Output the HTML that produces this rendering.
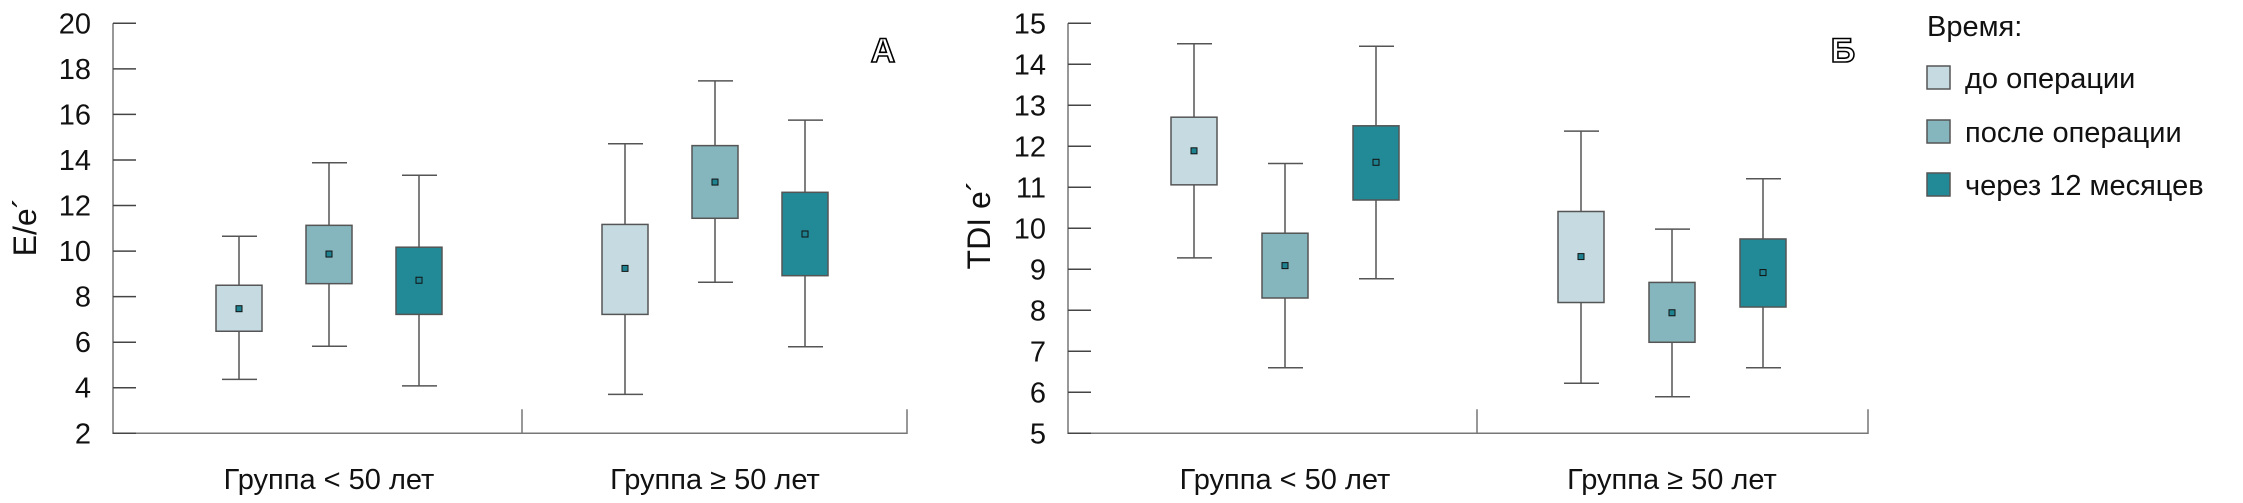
<!DOCTYPE html>
<html><head><meta charset="utf-8"><style>
html,body{margin:0;padding:0;background:#fff;}
svg{display:block;font-family:"Liberation Sans",sans-serif;}
</style></head><body>
<svg id="chart" width="2243" height="503" viewBox="0 0 2243 503" xmlns="http://www.w3.org/2000/svg"></svg>
<script>
const categories = ["Группа < 50 лет", "Группа ≥ 50 лет"];
const seriesNames = ["до операции", "после операции", "через 12 месяцев"];
// panel A (E/e')  [min, q1, q3, max, mean] per group per series
const eeMin  = [[4.37, 5.82, 4.08], [3.71, 8.63, 5.80]];
const eeQ1   = [[6.48, 8.57, 7.22], [7.22, 11.44, 8.92]];
const eeQ3   = [[8.50, 11.13, 10.17], [11.17, 14.63, 12.58]];
const eeMax  = [[10.65, 13.88, 13.33], [14.71, 17.47, 15.75]];
const eeMean = [[7.47, 9.87, 8.72], [9.24, 13.03, 10.75]];
const eeTicks = [2, 4, 6, 8, 10, 12, 14, 16, 18, 20];
// panel Б (TDI e')
const tdMin  = [[9.28, 6.60, 8.77], [6.22, 5.89, 6.60]];
const tdQ1   = [[11.06, 8.30, 10.69], [8.19, 7.22, 8.08]];
const tdQ3   = [[12.71, 9.88, 12.50], [10.41, 8.68, 9.74]];
const tdMax  = [[14.50, 11.58, 14.44], [12.37, 9.98, 11.21]];
const tdMean = [[11.89, 9.09, 11.61], [9.31, 7.94, 8.92]];
const tdTicks = [5, 6, 7, 8, 9, 10, 11, 12, 13, 14, 15];

const colors = ["#c6dbe1", "#85b5bd", "#218a96"];
const NS = "http://www.w3.org/2000/svg";
const svg = document.getElementById("chart");
function mk(tag, attrs, parent) {
  const e = document.createElementNS(NS, tag);
  for (const k in attrs) e.setAttribute(k, attrs[k]);
  (parent || svg).appendChild(e);
  return e;
}

function panel(p) {
  const g = mk("g", {});
  
  
  const tmin = p.ticks[0], tmax = p.ticks[p.ticks.length - 1];
  const y = v => p.yBot - (v - tmin) / (tmax - tmin) * (p.yBot - p.yTop);
  const gx = (gi, si) => p.groupLeft[gi] + si * p.spacing;
  // axes
  const ax = mk("path", {d: `M${p.x0},${p.yTop} V${p.yBot} H${p.x1} V${p.yBot - 24} M${p.xDiv},${p.yBot} V${p.yBot - 24}`, fill: "none", stroke: "#777", "stroke-width": 1.5}, g);
  
  
  p.ticks.forEach(t => {
    const tk = mk("line", {x1: p.x0, x2: p.x0 + 23, y1: y(t), y2: y(t), stroke: "#444", "stroke-width": 1.5}, g);
    
    
    const tl = mk("text", {x: p.x0 - 22, y: y(t) + 10, "text-anchor": "end", "font-size": 29, fill: "#111"}, g);
    tl.textContent = t;
    
    
  });
  categories.forEach((c, gi) => {
    const t = mk("text", {x: gx(gi, 1), y: 489, "text-anchor": "middle", "font-size": 29, fill: "#111"}, g);
    t.textContent = c;
    
    
    for (let si = 0; si < 3; si++) {
      const cx = gx(gi, si);
      const bg = mk("g", {}, g);
      
      
      mk("path", {d: `M${cx},${y(p.max[gi][si])} V${y(p.q3[gi][si])} M${cx},${y(p.q1[gi][si])} V${y(p.min[gi][si])} M${cx - 17},${y(p.max[gi][si])} H${cx + 18} M${cx - 17},${y(p.min[gi][si])} H${cx + 18}`, stroke: "#555", "stroke-width": 1.5, fill: "none"}, bg);
      mk("rect", {x: cx - 23, y: y(p.q3[gi][si]), width: 46, height: y(p.q1[gi][si]) - y(p.q3[gi][si]), fill: colors[si], stroke: "#555", "stroke-width": 1.5}, bg);
      mk("rect", {x: cx - 3, y: y(p.mean[gi][si]) - 3, width: 6, height: 6, fill: "#1f8290", stroke: "#111", "stroke-width": 1}, bg);
    }
  });
  const yl = mk("text", {x: p.ylx, y: p.yly, "text-anchor": "middle", "font-size": 32, fill: "#111", transform: `rotate(-90 ${p.ylx} ${p.yly})`}, g);
  yl.textContent = p.ylabel;
  
  
  const lt = mk("text", {x: p.lx, y: 62, "text-anchor": "middle", "font-size": 34, "font-weight": "bold", fill: "#fff", stroke: "#000", "stroke-width": 1.6}, g);
  lt.textContent = p.letter;
  
  
}

panel({name: "panel-a", ticks: eeTicks, min: eeMin, q1: eeQ1, q3: eeQ3, max: eeMax, mean: eeMean,
  x0: 113, x1: 907, xDiv: 522, yTop: 23.3, yBot: 433.3, groupLeft: [239, 625], spacing: 90,
  ylabel: "E/e´", ylx: 36, yly: 227, letter: "А", lx: 883});
panel({name: "panel-b", ticks: tdTicks, min: tdMin, q1: tdQ1, q3: tdQ3, max: tdMax, mean: tdMean,
  x0: 1068, x1: 1868, xDiv: 1477, yTop: 23.3, yBot: 433.3, groupLeft: [1194, 1581], spacing: 91,
  ylabel: "TDI e´", ylx: 990, yly: 225, letter: "Б", lx: 1843});

// legend
const lg = mk("g", {});


const lt = mk("text", {x: 1927, y: 36, "font-size": 29, fill: "#111"}, lg);
lt.textContent = "Время:";


const legY = [66, 120, 173];
seriesNames.forEach((s, i) => {
  const e = mk("g", {}, lg);
  
  
  mk("rect", {x: 1927, y: legY[i], width: 23, height: 23, fill: colors[i], stroke: "#555", "stroke-width": 1.5}, e);
  const t = mk("text", {x: 1965, y: legY[i] + 22, "font-size": 29, fill: "#111"}, e);
  t.textContent = s;
});
</script>
</body></html>
